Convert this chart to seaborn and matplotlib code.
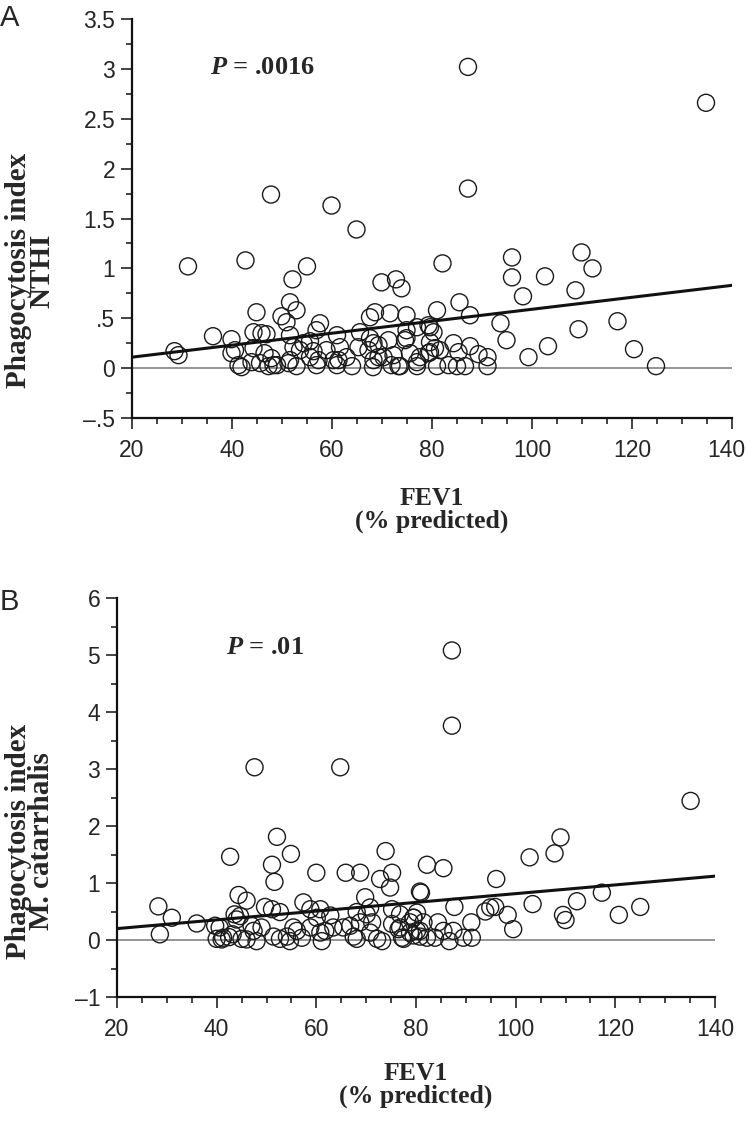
import numpy as np
import matplotlib
matplotlib.use("Agg")
import matplotlib.pyplot as plt
import matplotlib.transforms as mtransforms
import seaborn as sns
from matplotlib.ticker import MultipleLocator

# --- data ---
# panel A: FEV1 (% predicted) vs phagocytosis index NTHI
fev1_a = [28.5, 29.3, 31.2, 36.2, 42.7, 47.8, 59.9, 64.9, 52.1, 55.0, 87.2, 134.8, 87.2,
          82.1, 96.0, 96.0, 102.6, 109.9, 112.1, 108.7, 98.2, 85.5, 87.6, 81.0, 93.7, 94.9,
          99.3, 103.2, 109.3, 117.1, 120.4, 124.8,
          69.9, 72.8, 73.9,
          74.9, 77.0, 79.6, 80.3, 74.9, 84.3, 87.6, 85.3, 89.3, 91.1,
          73.6, 77.0, 81.0, 83.3, 86.6, 91.1,
          75.6, 77.6, 79.6, 80.6, 81.6,
          39.9, 39.9, 40.6, 41.3, 41.9, 44.9, 44.3, 44.3, 43.9, 45.9, 46.9, 45.6, 47.3, 48.3,
          47.9, 46.5,
          49.9, 50.9, 51.6, 52.9, 51.6, 52.3, 51.6, 51.3, 53.6, 54.3, 55.6, 56.3, 57.6, 56.9,
          55.6, 57.3,
          61.0, 61.6, 60.3, 61.3, 58.9, 62.9, 65.3, 65.6, 67.6, 68.6, 67.6, 68.3, 69.3, 67.3,
          68.3, 68.2, 69.3, 70.3, 71.3, 71.6, 72.3, 71.9, 73.3, 74.9, 74.6, 77.0, 79.3, 79.6,
          79.3,
          49.0, 52.9, 56.9, 61.0, 64.0, 85.0]
nthi = [0.17, 0.13, 1.02, 0.32, 1.08, 1.74, 1.63, 1.39, 0.89, 1.02, 3.02, 2.66, 1.80,
        1.05, 1.11, 0.91, 0.92, 1.16, 1.00, 0.78, 0.72, 0.66, 0.53, 0.58, 0.45, 0.28,
        0.11, 0.22, 0.39, 0.47, 0.19, 0.02,
        0.86, 0.89, 0.80,
        0.53, 0.41, 0.41, 0.36, 0.30, 0.25, 0.22, 0.16, 0.14, 0.11,
        0.02, 0.02, 0.02, 0.03, 0.02, 0.02,
        0.15, 0.11, 0.16, 0.20, 0.18,
        0.29, 0.15, 0.18, 0.03, 0.01, 0.56, 0.36, 0.20, 0.06, 0.35, 0.34, 0.05, 0.02, 0.03,
        0.10, 0.15,
        0.52, 0.46, 0.66, 0.58, 0.33, 0.21, 0.08, 0.05, 0.18, 0.25, 0.27, 0.17, 0.45, 0.38,
        0.11, 0.08,
        0.33, 0.21, 0.08, 0.08, 0.18, 0.11, 0.21, 0.36, 0.51, 0.56, 0.30, 0.25, 0.23, 0.18,
        0.08, 0.01, 0.11, 0.11, 0.28, 0.55, 0.13, 0.03, 0.02, 0.38, 0.28, 0.06, 0.43, 0.26,
        0.15,
        0.03, 0.02, 0.03, 0.03, 0.02, 0.02]

# panel B: FEV1 (% predicted) vs phagocytosis index M. catarrhalis
fev1_b = [47.6, 64.8, 52.1, 42.7, 54.9, 51.1,
          87.2, 87.2, 135.1, 109.0, 107.8, 73.9, 102.8,
          82.2, 85.5, 96.1, 81.0, 87.7, 93.9, 95.9, 94.9, 98.4, 99.5, 103.4, 109.5, 110.0,
          112.3, 117.3, 120.7, 125.0, 91.1,
          84.4, 85.5, 87.5, 89.5, 91.2, 86.7, 83.8,
          80.2, 79.5, 80.8, 79.5, 77.5, 76.8,
          51.6, 60.0, 65.9, 68.8, 75.2, 74.8, 72.8, 80.8,
          28.3, 31.0, 28.6, 36.0, 44.4, 46.0,
          39.7, 40.0, 41.0, 41.3, 44.0, 44.7,
          45.0, 46.0, 47.4, 48.0, 49.0, 47.0,
          49.7, 51.1, 52.7,
          51.4, 52.7, 54.1, 54.7, 56.1, 55.4, 57.1,
          57.4, 58.8, 60.8, 60.1,
          58.8, 60.8, 61.1, 62.8, 63.4, 61.8,
          65.4, 66.8, 67.5, 68.1, 68.8, 68.1, 69.8, 70.8, 70.1,
          70.8, 72.2, 73.2, 71.2,
          75.2, 76.8, 75.2, 76.5, 77.2, 78.8, 79.5, 78.8, 80.2, 80.8, 81.5, 82.2,
          42.5, 43.2, 40.6, 43.6]
mcat = [3.03, 3.03, 1.81, 1.46, 1.51, 1.32,
        5.08, 3.76, 2.44, 1.80, 1.52, 1.56, 1.45,
        1.32, 1.26, 1.07, 0.83, 0.58, 0.50, 0.58, 0.57, 0.44, 0.19, 0.63, 0.44, 0.35,
        0.68, 0.83, 0.44, 0.58, 0.31,
        0.31, 0.16, 0.16, 0.04, 0.04, -0.02, 0.04,
        0.48, 0.39, 0.16, 0.08, 0.02, 0.22,
        1.02, 1.18, 1.18, 1.18, 1.18, 0.92, 1.07, 0.85,
        0.59, 0.39, 0.10, 0.29, 0.79, 0.69,
        0.25, 0.02, 0.01, 0.04, 0.36, 0.42,
        0.02, 0.01, 0.16, -0.02, 0.22, 0.25,
        0.58, 0.54, 0.49,
        0.06, 0.02, 0.06, -0.02, 0.16, 0.22, 0.04,
        0.66, 0.54, 0.54, 0.39,
        0.22, 0.13, -0.02, 0.43, 0.22, 0.16,
        0.22, 0.25, 0.06, 0.02, 0.31, 0.49, 0.75, 0.57, 0.45,
        0.13, 0.02, -0.02, 0.31,
        0.54, 0.45, 0.28, 0.19, 0.04, 0.31, 0.39, 0.13, 0.16, 0.06, 0.31, 0.04,
        0.05, 0.10, 0.22, 0.45]

# regression lines (ends)
fit_x = [20, 140]
fit_a = [0.11, 0.83]
fit_b = [0.20, 1.12]

yticks_a = [-0.5, 0, 0.5, 1, 1.5, 2, 2.5, 3, 3.5]
ylabels_a = ["\u2013.5", "0", ".5", "1", "1.5", "2", "2.5", "3", "3.5"]
yticks_b = [-1, 0, 1, 2, 3, 4, 5, 6]
ylabels_b = ["\u20131", "0", "1", "2", "3", "4", "5", "6"]
xticks = [20, 40, 60, 80, 100, 120, 140]

sns.set_style("ticks")
plt.rcParams['font.family'] = ['Liberation Sans', 'DejaVu Sans']
plt.rcParams['mathtext.fontset'] = 'custom'
plt.rcParams['mathtext.it'] = 'Liberation Serif:italic:bold'
plt.rcParams['mathtext.rm'] = 'Liberation Serif:bold'

fig = plt.figure(figsize=(7.47, 11.21), dpi=100)
ax_a = fig.add_axes([132/747, 1 - 418/1121, 600/747, 399/1121])
ax_b = fig.add_axes([117/747, 1 - 997/1121, 598/747, 399/1121])

xlab_font = dict(family='Liberation Serif', weight='bold', size=18.5)
ylab_font = dict(family='Liberation Serif', weight='bold', size=21)


def draw_panel(ax, x, y, fit_y, yticks, ylabels, ylim, yminor, ylabel, ptxt, ppos):
    ax.axhline(0, color='#8c8c8c', lw=1.3, zorder=1)
    sns.scatterplot(x=x, y=y, ax=ax, marker='o', s=150, facecolor='none',
                    edgecolor='#1a1a1a', linewidth=1.0, zorder=3)
    sns.lineplot(x=fit_x, y=fit_y, ax=ax, color='#111111', lw=2.2, zorder=4)
    ax.set_xlim(20, 140)
    ax.set_ylim(*ylim)
    ax.set_xticks(xticks)
    ax.set_yticks(yticks)
    ax.set_yticklabels(ylabels)
    ax.xaxis.set_minor_locator(MultipleLocator(5))
    ax.yaxis.set_minor_locator(MultipleLocator(yminor))
    sns.despine(ax=ax)
    for s in ['left', 'bottom']:
        ax.spines[s].set_linewidth(1.6)
        ax.spines[s].set_color('#111111')
    ax.tick_params(which='major', length=8, width=1.1, color='#111111',
                   labelsize=16.5, pad=4)
    ax.tick_params(which='minor', length=4.5, width=1.1, color='#111111')
    ax.tick_params(axis='x', which='major', pad=7)
    ax.set_xlabel("FEV1\n(% predicted)", fontdict=xlab_font, linespacing=1.0)
    ax.set_ylabel(ylabel, fontdict=ylab_font, linespacing=0.84)
    ax.text(ppos[0], ppos[1], ptxt, fontsize=19, fontfamily='Liberation Serif',
            fontweight='bold', va='center', ha='left')


draw_panel(ax_a, fev1_a, nthi, fit_a, yticks_a, ylabels_a, (-0.5, 3.5), 0.25,
           "Phagocytosis index\nNTHI", r"$P$ = .0016", (35.6, 3.01))
draw_panel(ax_b, fev1_b, mcat, fit_b, yticks_b, ylabels_b, (-1, 6), 0.5,
           "Phagocytosis index\nM. catarrhalis", r"$P$ = .01", (41.9, 5.13))

ax_a.yaxis.set_label_coords(-0.128, 0.37)
ax_b.yaxis.set_label_coords(-0.103, 0.39)
ax_a.xaxis.set_label_coords(0.5, -0.172)
ax_b.xaxis.set_label_coords(0.5, -0.163)

# keep the last x tick label of panel A inside the figure
fig.canvas.draw()
last = ax_a.get_xticklabels()[-1]
last.set_transform(last.get_transform() +
                   mtransforms.ScaledTranslation(-4 / 72, 0, fig.dpi_scale_trans))

fig.text(0 / 747, 1 - 18 / 1121, "A", fontsize=21, va='center', ha='left')
fig.text(0 / 747, 1 - 602 / 1121, "B", fontsize=21, va='center', ha='left')

fig.savefig("out.png", dpi=100)
